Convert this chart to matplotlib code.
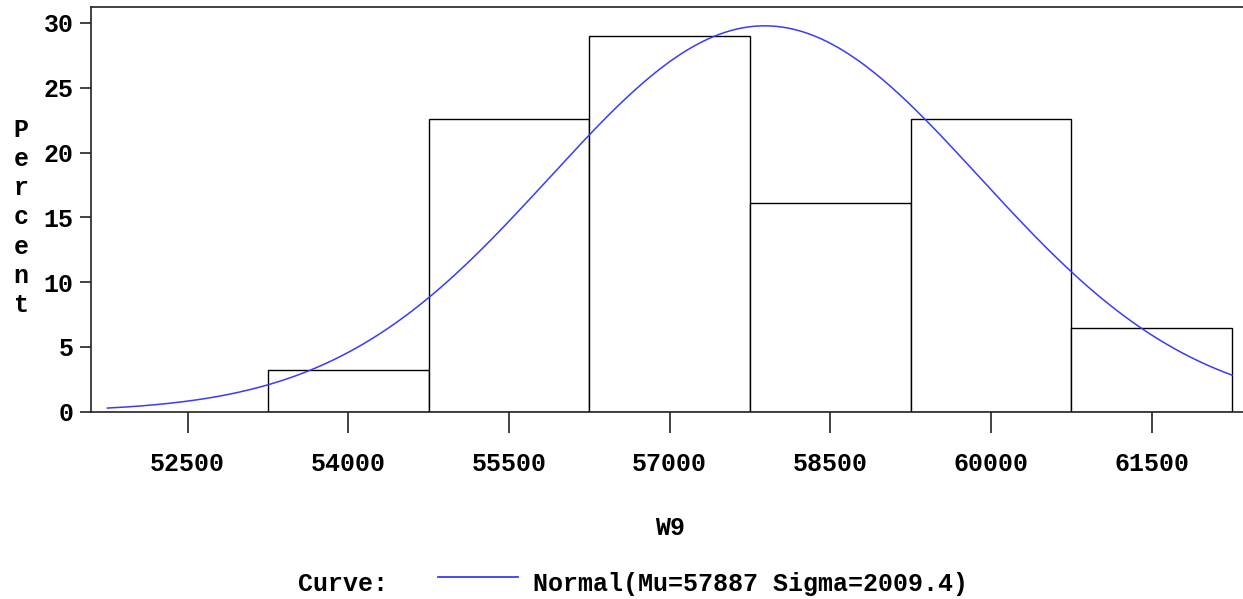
import numpy as np
import matplotlib
matplotlib.use('Agg')
import matplotlib.pyplot as plt
from matplotlib.lines import Line2D

# ===== DANE =====
bin_mids = [54000, 55500, 57000, 58500, 60000, 61500]
percents = [3.23, 22.58, 29.03, 16.13, 22.58, 6.45]
bin_width = 1500
x_ticks = [52500, 54000, 55500, 57000, 58500, 60000, 61500]
y_ticks = [0, 5, 10, 15, 20, 25, 30]
mu = 57887
sigma = 2009.4
curve_range = (51750, 62250)

FONT = 'Liberation Mono'
FS = 18
BLUE = '#3a3aff'

W, H = 1243, 599
fig = plt.figure(figsize=(W/100, H/100), dpi=100)
ax = fig.add_axes([91/W, (H-411.7)/H, 1 - 91/W, (411.7-7.3)/H])

ax.bar(bin_mids, percents, width=bin_width, color='white', edgecolor='black', linewidth=1.0, zorder=2)

# krzywa normalna w procentach
xs = np.linspace(curve_range[0], curve_range[1], 400)
ys = 100 * bin_width * np.exp(-0.5*((xs-mu)/sigma)**2) / (sigma*np.sqrt(2*np.pi))
ax.plot(xs, ys, color=BLUE, linewidth=1.1, zorder=3)

ax.set_xlim(51597, 62352)
ax.set_ylim(0, 31.21)
ax.set_xticks(x_ticks)
ax.set_yticks(y_ticks)
ax.set_xticklabels([str(v) for v in x_ticks], fontfamily=FONT, fontweight='bold', fontsize=FS)
ax.set_yticklabels([str(v) for v in y_ticks], fontfamily=FONT, fontweight='bold', fontsize=FS)
ax.tick_params(axis='x', direction='out', length=15, width=1.2, pad=14, color='#222222')
ax.tick_params(axis='y', direction='out', length=8, width=1.2, pad=4.5, color='#222222')
ax.spines['right'].set_visible(False)
for s in ['left', 'top', 'bottom']:
    ax.spines[s].set_linewidth(1.2)
    ax.spines[s].set_color('#222222')

ax.set_ylabel("\n".join("Percent"), rotation=0, fontfamily=FONT, fontweight='bold',
              fontsize=FS, linespacing=1.27, va='center', ha='center')
ax.yaxis.set_label_coords((21-91)/(W-91), (411.7-217.5)/404.4)

fig.text(670/W, 1 - 528/H, 'W9', fontfamily=FONT, fontweight='bold', fontsize=FS, ha='center', va='center')

# legenda
ly = 1 - 584/H
fig.text(343/W, ly, 'Curve:', fontfamily=FONT, fontweight='bold', fontsize=FS, ha='center', va='center')
fig.add_artist(Line2D([438/W, 518/W], [1 - 577/H, 1 - 577/H], color=BLUE, linewidth=1.3))
fig.text(533/W, ly, 'Normal(Mu=57887 Sigma=2009.4)', fontfamily=FONT, fontweight='bold', fontsize=FS,
         ha='left', va='center')

plt.savefig('out.png', dpi=100)
